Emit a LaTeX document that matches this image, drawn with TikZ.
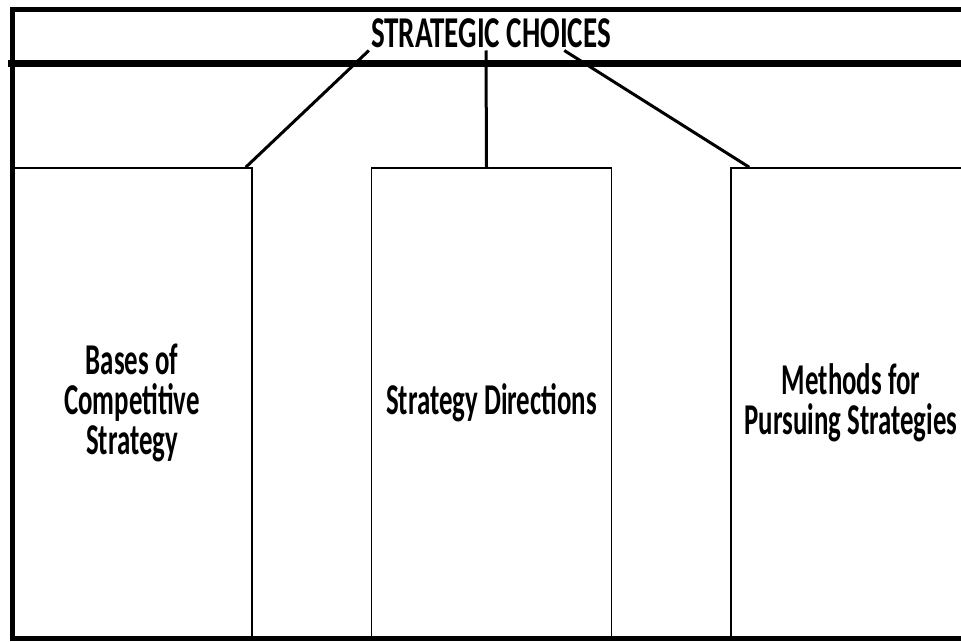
\documentclass[tikz,border=0pt]{standalone}
\usepackage{fontspec}
\setmainfont{Carlito}[FakeStretch=0.61]
\newfontfamily\headfont{Carlito}[FakeStretch=0.66]
\usetikzlibrary{positioning,calc}
\tikzstyle{choice} = [rectangle, draw, line width=1.5pt, minimum width=240pt, minimum height=470pt, align=center, font=\bfseries\fontsize{44}{40}\selectfont, inner sep=0pt]
\tikzstyle{heading} = [font=\headfont\bfseries\fontsize{44}{40}\selectfont, inner sep=2pt]
\tikzstyle{frame} = [line width=5pt]
\tikzstyle{link} = [line width=3pt]

\begin{document}
\begin{tikzpicture}[x=1pt, y=1pt, node distance=359.5pt]
    \useasboundingbox (0,0) rectangle (961,641);
    % outer frame and band
    \draw[frame] (975,631) -- (12,631) -- (12,3) -- (975,3);
    \draw[frame, line width=7pt] (8,577) -- (975,577);

    \node[heading, anchor=base] (title) at (491,593) {STRATEGIC CHOICES};

    \node[choice] (bases) at (132,238) {Bases of\\Competitive\\Strategy};
    \node[choice, right of=bases] (directions) {Strategy Directions};
    \node[choice, right of=directions] (methods) {Methods for\\Pursuing Strategies};

    \draw[link] (title.south west) -- ($(bases.north east)+(-7,0)$);
    \draw[link] ($(title.south)+(-5,0)$) -- ($(directions.north)+(-5,0)$);
    \draw[link] ($(title.south)!0.6!(title.south east)$) -- ($(methods.north west)+(19,0)$);
\end{tikzpicture}
\end{document}
